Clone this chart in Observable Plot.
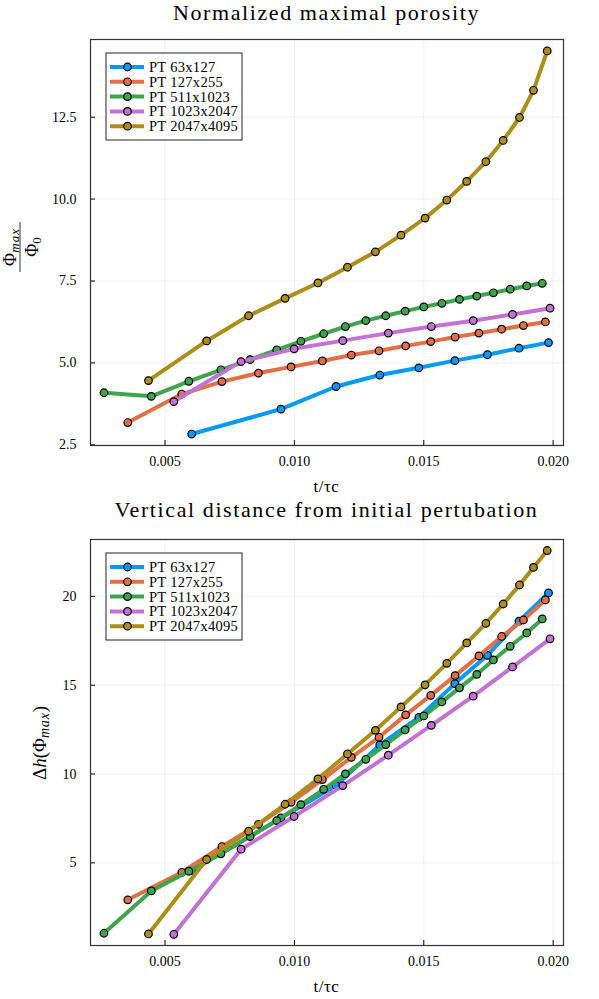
<!DOCTYPE html>
<html>
<head>
<meta charset="utf-8">
<script src="https://cdn.jsdelivr.net/npm/d3@7"></script>
<script src="https://cdn.jsdelivr.net/npm/@observablehq/plot@0.6"></script>
<style>
  body { margin: 0; background: #fff; font-family: "Liberation Serif", serif; }
  #charts svg { display: block; }
</style>
</head>
<body>
<div id="charts"></div>
<script>
const names = ["PT 63x127", "PT 127x255", "PT 511x1023", "PT 1023x2047", "PT 2047x4095"];
const colors = ["#009afa", "#e36f47", "#3ea44e", "#c371d2", "#ac8e18"];

// t / tau_c for each run
const t63 = [0.00603, 0.00948, 0.01161, 0.0133, 0.01481, 0.0162, 0.01746, 0.01868, 0.01982];
const t127 = [0.00356, 0.00565, 0.0072, 0.00861, 0.00987, 0.01108, 0.0122, 0.01327, 0.0143, 0.01527, 0.01621, 0.01713, 0.01801, 0.01885, 0.0197];
const t511 = [0.00264, 0.00447, 0.00592, 0.00716, 0.00829, 0.00932, 0.01025, 0.01113, 0.01197, 0.01276, 0.01353, 0.01428, 0.015, 0.0157, 0.01638, 0.01705, 0.01769, 0.01834, 0.01898, 0.01958];
const t1023 = [0.00534, 0.00794, 0.00999, 0.01187, 0.01363, 0.01529, 0.01691, 0.01843, 0.01988];
const t2047 = [0.00436, 0.00661, 0.00823, 0.00964, 0.01091, 0.01205, 0.01313, 0.01412, 0.01505, 0.01589, 0.01666, 0.0174, 0.01807, 0.0187, 0.01924, 0.01977];

// normalized maximal porosity
const phi63 = [2.83, 3.59, 4.28, 4.63, 4.85, 5.07, 5.25, 5.45, 5.62];
const phi127 = [3.18, 4.05, 4.43, 4.69, 4.88, 5.06, 5.24, 5.37, 5.52, 5.65, 5.79, 5.91, 6.03, 6.14, 6.25];
const phi511 = [4.09, 3.98, 4.44, 4.79, 5.1, 5.4, 5.66, 5.89, 6.11, 6.29, 6.44, 6.58, 6.71, 6.82, 6.94, 7.04, 7.14, 7.25, 7.35, 7.43];
const phi1023 = [3.82, 5.04, 5.43, 5.68, 5.91, 6.11, 6.29, 6.48, 6.67];
const phi2047 = [4.46, 5.67, 6.44, 6.97, 7.44, 7.92, 8.39, 8.9, 9.42, 9.97, 10.54, 11.14, 11.79, 12.49, 13.32, 14.52];

// vertical distance from initial perturbation
const dh63 = [4.55, 7.53, 9.35, 11.64, 13.19, 15.09, 16.68, 18.6, 20.19];
const dh127 = [2.92, 4.47, 5.92, 7.17, 8.41, 9.69, 10.94, 12.07, 13.33, 14.43, 15.54, 16.65, 17.74, 18.67, 19.8];
const dh511 = [1.04, 3.42, 4.53, 5.51, 6.48, 7.38, 8.28, 9.14, 10.01, 10.83, 11.66, 12.48, 13.27, 14.06, 14.85, 15.61, 16.42, 17.19, 17.94, 18.73];
const dh1023 = [0.98, 5.77, 7.61, 9.35, 11.06, 12.74, 14.38, 16.03, 17.61];
const dh2047 = [1.0, 5.19, 6.78, 8.3, 9.73, 11.13, 12.46, 13.78, 15.02, 16.23, 17.38, 18.48, 19.57, 20.64, 21.63, 22.58];

const xTicks = [0.005, 0.010, 0.015, 0.020];
const phiTicks = [2.5, 5.0, 7.5, 10.0, 12.5];
const dhTicks = [5, 10, 15, 20];

const ts = [t63, t127, t511, t1023, t2047];
const phis = [phi63, phi127, phi511, phi1023, phi2047];
const dhs = [dh63, dh127, dh511, dh1023, dh2047];

const rows = names.flatMap((name, i) =>
  ts[i].map((t, j) => ({name, t, phi: phis[i][j], dh: dhs[i][j]}))
);

const font = "Liberation Serif";

function makeChart({key, height, marginTop, marginBottom, domain, ticks, fmt, title}) {
  const seriesMarks = names.flatMap((name, i) => {
    const d = rows.filter(r => r.name === name);
    return [
      Plot.line(d, {x: "t", y: key, stroke: colors[i], strokeWidth: 4}),
      Plot.dot(d, {x: "t", y: key, r: 3.8, fill: colors[i], stroke: "#000", strokeWidth: 1.2})
    ];
  });
  const chart = Plot.plot({
    width: 599,
    height,
    marginLeft: 90,
    marginRight: 36,
    marginTop,
    marginBottom,
    style: {fontFamily: font, fontSize: "14px", color: "#000", background: "#fff"},
    x: {domain: [0.00212, 0.0204]},
    y: {domain},
    marks: [
      Plot.gridX(xTicks, {stroke: "#000", strokeOpacity: 0.1, strokeWidth: 0.6}),
      Plot.gridY(ticks, {stroke: "#000", strokeOpacity: 0.1, strokeWidth: 0.6}),
      Plot.axisX(xTicks, {tickSize: -5, tickPadding: 16, tickFormat: d3.format(".3f"), label: null, fontSize: 14}),
      Plot.axisY(ticks, {tickSize: -5, tickPadding: 19, tickFormat: fmt, label: null, fontSize: 14}),
      ...seriesMarks,
      Plot.frame({stroke: "#333", strokeWidth: 1.2})
    ]
  });
  const svg = d3.select(chart);
  const cx = (90 + 563) / 2;
  svg.append("text").attr("x", cx).attr("y", 20).attr("text-anchor", "middle")
    .attr("font-family", font).attr("font-size", 22).attr("letter-spacing", 1.6)
    .attr("fill", "#000").text(title);
  const frameBottom = height - marginBottom;
  svg.append("text").attr("x", cx).attr("y", frameBottom + 47).attr("text-anchor", "middle")
    .attr("font-family", font).attr("font-size", 17).attr("letter-spacing", 0.5)
    .attr("fill", "#000").text("t/τc");

  // legend
  const lx = 106, ly = marginTop + 14;
  const lg = svg.append("g");
  lg.append("rect").attr("x", lx).attr("y", ly).attr("width", 136).attr("height", 87)
    .attr("fill", "#fff").attr("stroke", "#222").attr("stroke-width", 1);
  names.forEach((name, i) => {
    const yy = ly + 14 + i * 14.8;
    lg.append("line").attr("x1", lx + 4).attr("x2", lx + 38).attr("y1", yy).attr("y2", yy)
      .attr("stroke", colors[i]).attr("stroke-width", 4);
    lg.append("circle").attr("cx", lx + 21.5).attr("cy", yy).attr("r", 3.8)
      .attr("fill", colors[i]).attr("stroke", "#000").attr("stroke-width", 1.2);
    lg.append("text").attr("x", lx + 43).attr("y", yy).attr("dy", "0.35em")
      .attr("text-anchor", "start").attr("font-family", font).attr("font-size", 14.5)
      .attr("letter-spacing", 0.3).attr("fill", "#000").text(name);
  });
  return {chart, svg};
}

const topChart = makeChart({
  key: "phi", height: 497, marginTop: 39, marginBottom: 52,
  domain: [2.48, 14.87], ticks: phiTicks, fmt: d3.format(".1f"),
  title: "Normalized maximal porosity"
});
// fraction label Φmax / Φ0
const fr = topChart.svg.append("g").attr("transform", "translate(20,247) rotate(-90)")
  .attr("font-family", font).attr("fill", "#000");
const num = fr.append("text").attr("x", 0).attr("y", -4).attr("text-anchor", "middle").attr("font-size", 18);
num.append("tspan").text("Φ");
num.append("tspan").attr("font-style", "italic").attr("font-size", 13).attr("letter-spacing", 1).attr("dy", 3).text("max");
fr.append("line").attr("x1", -25).attr("x2", 25).attr("y1", 0).attr("y2", 0).attr("stroke", "#000").attr("stroke-width", 0.8);
const den = fr.append("text").attr("x", 0).attr("y", 18).attr("text-anchor", "middle").attr("font-size", 18);
den.append("tspan").text("Φ");
den.append("tspan").attr("font-size", 13).attr("dy", 3).text("0");

const bottomChart = makeChart({
  key: "dh", height: 502, marginTop: 42, marginBottom: 54,
  domain: [0.35, 23.2], ticks: dhTicks, fmt: d3.format("d"),
  title: "Vertical distance from initial pertubation"
});
const yl = bottomChart.svg.append("text").attr("transform", "translate(46,246) rotate(-90)")
  .attr("font-family", font).attr("font-size", 19).attr("fill", "#000").attr("text-anchor", "middle");
yl.append("tspan").text("Δ");
yl.append("tspan").attr("font-style", "italic").text("h");
yl.append("tspan").text("(Φ");
yl.append("tspan").attr("font-style", "italic").attr("font-size", 14).attr("letter-spacing", 0.8).attr("dy", 3).text("max");
yl.append("tspan").attr("dy", -3).text(")");

const root = document.getElementById("charts");
root.append(topChart.chart);
root.append(bottomChart.chart);
</script>
</body>
</html>
